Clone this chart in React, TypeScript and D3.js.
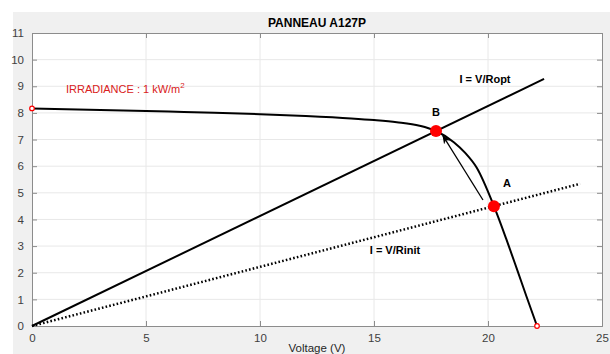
import React, { useEffect, useRef } from 'react';
import * as d3 from 'd3';

// courbe I-V du panneau
const voltage = [0, 2, 4, 6, 8, 10, 12, 14, 15, 16, 17, 17.72, 18.5, 19, 19.5, 20.26, 20.8, 21.3, 21.7, 22.15];
const current = [8.17, 8.13, 8.09, 8.05, 8.01, 7.95, 7.88, 7.79, 7.73, 7.65, 7.52, 7.32, 6.9, 6.5, 5.95, 4.5, 3.27, 2.06, 1.08, 0];
const ptA = [20.26, 4.5];
const ptB = [17.72, 7.32];
const roptEnd = 22.46;
const rinitEnd = 24.04;
const arrowFrom = [19.78, 4.73];
const arrowTo = [18.02, 7.15];
const xTicks = [0, 5, 10, 15, 20, 25];
const yTicks = [0, 1, 2, 3, 4, 5, 6, 7, 8, 9, 10, 11];

const W = 610;
const H = 354;
const margin = { left: 32, top: 33, right: 8, bottom: 28 };

export default function App() {
  const ref = useRef<SVGSVGElement>(null);

  useEffect(() => {
    document.body.style.margin = '0';
    const svg = d3.select(ref.current);
    svg.selectAll('*').remove();

    const x = d3.scaleLinear().domain([0, 25]).range([margin.left, W - margin.right]);
    const y = d3.scaleLinear().domain([0, 11]).range([H - margin.bottom, margin.top]);
    const font = 'Liberation Sans, Arial, sans-serif';

    // fond de la figure
    svg.append('rect').attr('x', 13).attr('y', 12).attr('width', W - 13).attr('height', H - 12).attr('fill', '#f0f0f0');
    svg.append('rect')
      .attr('x', x(0)).attr('y', y(11))
      .attr('width', x(25) - x(0)).attr('height', y(0) - y(11))
      .attr('fill', '#fff');

    // grille
    const grid = svg.append('g').attr('stroke', '#e8e8e8').attr('stroke-width', 1);
    xTicks.slice(1, -1).forEach((t) => {
      grid.append('line').attr('x1', x(t)).attr('x2', x(t)).attr('y1', y(0)).attr('y2', y(11));
    });
    yTicks.slice(1, -1).forEach((t) => {
      grid.append('line').attr('x1', x(0)).attr('x2', x(25)).attr('y1', y(t)).attr('y2', y(t));
    });

    // axes
    const xAxis = svg.append('g').attr('transform', `translate(0,${y(0)})`)
      .call(d3.axisBottom(x).tickValues(xTicks).tickSize(-5).tickPadding(8));
    const xTop = svg.append('g').attr('transform', `translate(0,${y(11)})`)
      .call(d3.axisTop(x).tickValues(xTicks).tickSize(-5).tickFormat(() => ''));
    const yAxis = svg.append('g').attr('transform', `translate(${x(0)},0)`)
      .call(d3.axisLeft(y).tickValues(yTicks).tickSize(-5).tickPadding(8));
    const yRight = svg.append('g').attr('transform', `translate(${x(25)},0)`)
      .call(d3.axisRight(y).tickValues(yTicks).tickSize(-5).tickFormat(() => ''));
    [xAxis, xTop, yAxis, yRight].forEach((g) => {
      g.select('.domain').attr('stroke', '#8c8c8c');
      g.selectAll('.tick line').attr('stroke', '#8c8c8c');
      g.selectAll('text').attr('fill', '#404040').style('font-family', font).style('font-size', '11.5px');
    });

    const plot = svg.append('g');

    // droites de charge
    plot.append('line')
      .attr('x1', x(0)).attr('y1', y(0))
      .attr('x2', x(roptEnd)).attr('y2', y(roptEnd * ptB[1] / ptB[0]))
      .attr('stroke', '#000').attr('stroke-width', 2);
    plot.append('line')
      .attr('x1', x(0)).attr('y1', y(0))
      .attr('x2', x(rinitEnd)).attr('y2', y(rinitEnd * ptA[1] / ptA[0]))
      .attr('stroke', '#000').attr('stroke-width', 2.5).attr('stroke-dasharray', '1.6 2.2');

    // courbe I-V
    const data = voltage.map((v, i) => [v, current[i]] as [number, number]);
    plot.append('path')
      .datum(data)
      .attr('d', d3.line<[number, number]>().x((d) => x(d[0])).y((d) => y(d[1])).curve(d3.curveMonotoneX))
      .attr('fill', 'none').attr('stroke', '#000').attr('stroke-width', 2);

    // flèche A -> B
    svg.append('defs').append('marker')
      .attr('id', 'arr').attr('viewBox', '0 0 10 10').attr('refX', 9).attr('refY', 5)
      .attr('markerWidth', 7).attr('markerHeight', 7).attr('orient', 'auto')
      .append('path').attr('d', 'M0,1 L10,5 L0,9 L3,5 Z').attr('fill', '#000');
    plot.append('line')
      .attr('x1', x(arrowFrom[0])).attr('y1', y(arrowFrom[1]))
      .attr('x2', x(arrowTo[0])).attr('y2', y(arrowTo[1]))
      .attr('stroke', '#000').attr('stroke-width', 1.3).attr('marker-end', 'url(#arr)');

    // points
    [ptA, ptB].forEach((p) => {
      plot.append('circle').attr('cx', x(p[0])).attr('cy', y(p[1])).attr('r', 6).attr('fill', '#ff0000');
    });
    [[voltage[0], current[0]], [voltage[voltage.length - 1], current[current.length - 1]]].forEach((p) => {
      plot.append('circle').attr('cx', x(p[0])).attr('cy', y(p[1])).attr('r', 2.3)
        .attr('fill', '#fff').attr('stroke', '#ff0000').attr('stroke-width', 1.2);
    });

    // textes
    const txt = (tx: number, ty: number, s: string, size = 11, bold = true, color = '#000') =>
      svg.append('text').attr('x', tx).attr('y', ty).attr('text-anchor', 'middle')
        .style('font-family', font).style('font-size', `${size}px`)
        .style('font-weight', bold ? 'bold' : 'normal').attr('fill', color).text(s);

    txt((x(0) + x(25)) / 2, 27, 'PANNEAU A127P', 12);
    txt(x(ptB[0]), y(ptB[1]) - 15, 'B', 11);
    txt(x(ptA[0]) + 13, y(ptA[1]) - 19, 'A', 11);
    txt(485, 83, 'I = V/Ropt', 11);
    txt(395, 254, 'I = V/Rinit', 11);
    txt((x(0) + x(25)) / 2, 352, 'Voltage (V)', 11.5, false, '#262626');

    const irr = svg.append('text').attr('x', 66).attr('y', 93)
      .style('font-family', font).style('font-size', '11px').attr('fill', '#d92020');
    irr.append('tspan').text('IRRADIANCE : 1 kW/m');
    irr.append('tspan').attr('dy', -5).style('font-size', '8px').text('2');
  }, []);

  return <svg ref={ref} width={W} height={H} style={{ display: 'block', background: '#fff' }} />;
}
